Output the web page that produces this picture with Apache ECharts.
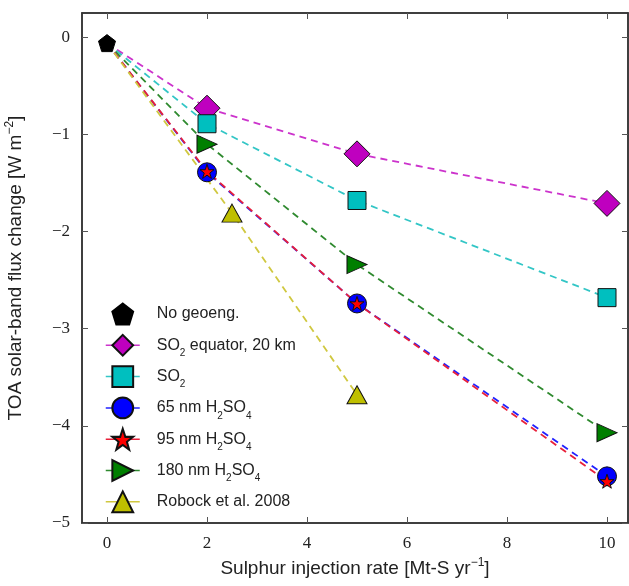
<!DOCTYPE html>
<html><head><meta charset="utf-8">
<script src="https://cdn.jsdelivr.net/npm/echarts@6/dist/echarts.min.js"></script>
<style>html,body{margin:0;padding:0;background:#fff}#c{width:629px;height:586px}</style>
</head><body><div id="c"></div>
<script>
// ---- data ----
const xTicks = [0, 2, 4, 6, 8, 10];
const yTicks = [0, -1, -2, -3, -4, -5];
const noGeoeng = [[0, -0.06]];
const so2Equator = [[2, -0.73], [5, -1.20], [10, -1.71]];
const so2 = [[2, -0.89], [5, -1.68], [10, -2.68]];
const h2so4_65 = [[2, -1.39], [5, -2.74], [10, -4.52]];
const h2so4_95 = [[2, -1.38], [5, -2.74], [10, -4.57]];
const h2so4_180 = [[2, -1.10], [5, -2.34], [10, -4.07]];
const robock = [[2.5, -1.81], [5, -3.68]];
const names = ['No geoeng.', 'SO2 equator, 20 km', 'SO2', '65 nm H2SO4', '95 nm H2SO4', '180 nm H2SO4', 'Robock et al. 2008'];
const legendLabels = {
  'No geoeng.': 'No geoeng.',
  'SO2 equator, 20 km': 'SO{sub|2} equator, 20 km',
  'SO2': 'SO{sub|2}',
  '65 nm H2SO4': '65 nm H{sub|2}SO{sub|4}',
  '95 nm H2SO4': '95 nm H{sub|2}SO{sub|4}',
  '180 nm H2SO4': '180 nm H{sub|2}SO{sub|4}',
  'Robock et al. 2008': 'Robock et al. 2008'
};

const PENTAGON = 'path://M50,0 L97.6,34.5 L79.4,90.5 L20.6,90.5 L2.4,34.5 Z';
const STAR = 'path://M50,0 L61.8,35.1 L97.6,34.5 L69.1,56.7 L79.4,90.5 L50,70 L20.6,90.5 L30.9,56.7 L2.4,34.5 L38.2,35.1 Z';
const TRI_RIGHT = 'path://M0,0 L100,50 L0,100 Z';

function mk(name, pts, symbol, size, color, lineColor) {
  return {
    type: 'line', name: name,
    data: [{ value: noGeoeng[0], symbol: 'none' }].concat(pts),
    symbol: symbol, symbolSize: size,
    itemStyle: { color: color, borderColor: '#111', borderWidth: 1 },
    lineStyle: { color: lineColor, type: [7, 5], width: 1.8 },
    emphasis: { disabled: true },
    animation: false
  };
}

const serif = 'Liberation Serif';
const sans = 'Liberation Sans';
const series = [
  mk(names[1], so2Equator, 'diamond', [26, 26], '#bf00bf', '#cc33cc'),
  mk(names[2], so2, 'rect', 18, '#00bfbf', '#33c6c6'),
  mk(names[5], h2so4_180, TRI_RIGHT, [20, 18], '#007f00', '#2f8a2f'),
  mk(names[3], h2so4_65, 'circle', 19, '#0000ff', '#2020ff'),
  mk(names[4], h2so4_95, STAR, 14, '#ff0000', '#e8203a'),
  mk(names[6], robock, 'triangle', [20, 18], '#bfbf00', '#d0c840'),
  {
    type: 'line', name: names[0], data: noGeoeng,
    symbol: PENTAGON, symbolSize: 17,
    itemStyle: { color: '#000', borderColor: '#000', borderWidth: 1 },
    lineStyle: { width: 0, opacity: 0 },
    animation: false
  }
];

const chart = echarts.init(document.getElementById('c'), null, { renderer: 'canvas' });
const fmtY = v => v < 0 ? '\u2212' + Math.abs(v) : String(v);
chart.setOption({
  backgroundColor: '#fff',
  animation: false,
  grid: { left: 82, top: 13, right: 1, bottom: 63, containLabel: false, outerBoundsMode: 'none',
    show: true, borderColor: '#333', borderWidth: 1.5, backgroundColor: 'transparent' },
  legend: {
    data: names, orient: 'vertical', left: 100, top: 296,
    itemWidth: 34, itemHeight: 26, itemGap: 5.3,
    lineStyle: { type: 'solid', width: 1.5 },
    formatter: n => legendLabels[n],
    textStyle: {
      fontFamily: sans, fontSize: 16, color: '#222', lineHeight: 26, padding: [0, 0, 0, 12],
      rich: { sub: { fontFamily: sans, fontSize: 10, lineHeight: 14, verticalAlign: 'bottom', color: '#222' } }
    },
    selectedMode: false
  },
  xAxis: [{
    type: 'value', min: -0.5, max: 10.42, position: 'bottom',
    name: 'Sulphur injection rate [Mt-S yr{sup|\u22121}]', nameLocation: 'middle', nameGap: 33,
    nameTextStyle: { fontFamily: sans, fontSize: 19, color: '#222', lineHeight: 24,
      rich: { sup: { fontFamily: sans, fontSize: 12, lineHeight: 12, verticalAlign: 'top', color: '#222' } } },
    axisLine: { show: true, onZero: false, lineStyle: { color: '#333', width: 1.5 } },
    axisTick: { show: true, inside: true, length: 6, customValues: xTicks, lineStyle: { color: '#555' } },
    axisLabel: { customValues: xTicks, fontFamily: serif, fontSize: 17, color: '#222', margin: 12 },
    splitLine: { show: false }
  }, {
    type: 'value', min: -0.5, max: 10.42, position: 'top',
    axisLine: { show: true, onZero: false, lineStyle: { color: '#333', width: 1.5 } },
    axisTick: { show: true, inside: true, length: 6, customValues: xTicks, lineStyle: { color: '#555' } },
    axisLabel: { show: false }, splitLine: { show: false }
  }],
  yAxis: [{
    type: 'value', min: -5, max: 0.25, position: 'left',
    name: 'TOA solar-band flux change [W m{sup|\u22122}]', nameLocation: 'middle', nameGap: 54,
    nameTextStyle: { fontFamily: sans, fontSize: 19, color: '#222', lineHeight: 24,
      rich: { sup: { fontFamily: sans, fontSize: 12, lineHeight: 12, verticalAlign: 'top', color: '#222' } } },
    axisLine: { show: true, onZero: false, lineStyle: { color: '#333', width: 1.5 } },
    axisTick: { show: true, inside: true, length: 6, customValues: yTicks, lineStyle: { color: '#555' } },
    axisLabel: { customValues: yTicks, formatter: fmtY, fontFamily: serif, fontSize: 17, color: '#222', margin: 12 },
    splitLine: { show: false }
  }, {
    type: 'value', min: -5, max: 0.25, position: 'right',
    axisLine: { show: true, onZero: false, lineStyle: { color: '#333', width: 1.5 } },
    axisTick: { show: true, inside: true, length: 6, customValues: yTicks, lineStyle: { color: '#555' } },
    axisLabel: { show: false }, splitLine: { show: false }
  }],
  series: series
});
</script>
</body></html>
